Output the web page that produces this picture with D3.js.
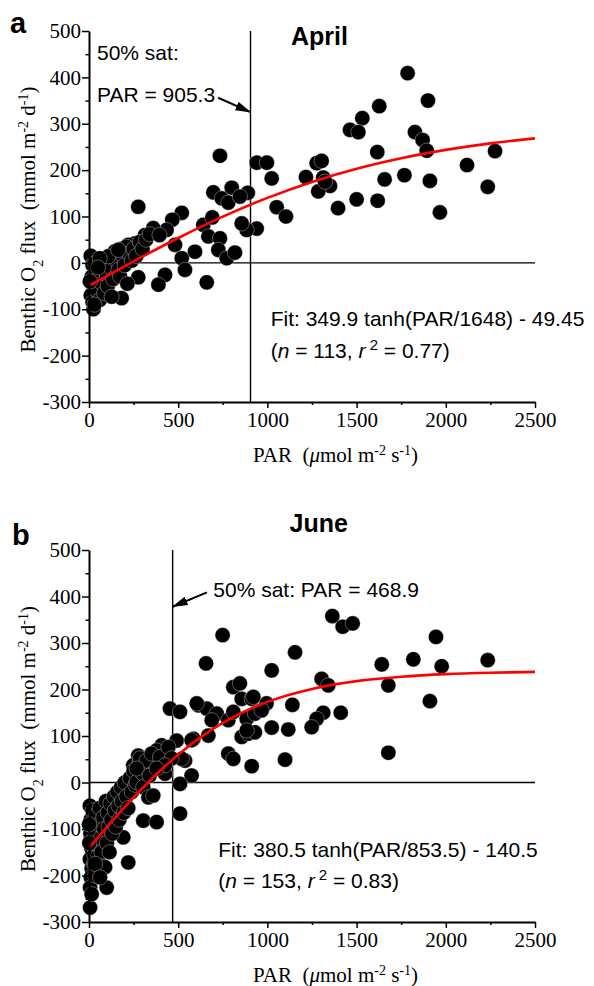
<!DOCTYPE html>
<html>
<head>
<meta charset="utf-8">
<script src="https://cdn.jsdelivr.net/npm/d3@7"></script>
<style>
  body { margin: 0; background: #fff; }
  svg { display: block; }
</style>
</head>
<body>
<div id="chart"></div>
<script>
// ---- data ----
const xTicks = [0, 500, 1000, 1500, 2000, 2500];
const xMinorTicks = [250, 750, 1250, 1750, 2250];
const yTicks = [-300, -200, -100, 0, 100, 200, 300, 400, 500];
const yMinorTicks = [-250, -150, -50, 50, 150, 250, 350, 450];

// April: [PAR, flux]
const aprilPoints = [
  [1786, 409], [1900, 350], [1627, 338], [1532, 312], [1463, 287], [1510, 282],
  [1827, 282], [1870, 265], [1893, 242], [1616, 239], [2276, 241], [2119, 211],
  [2235, 164], [1967, 109], [1911, 177], [1768, 189], [1657, 180], [1618, 134],
  [1500, 137], [1396, 118], [1276, 215], [1304, 220], [1313, 184], [1216, 185],
  [1351, 166], [1285, 154], [1323, 175], [940, 216], [997, 216], [1024, 182],
  [1052, 120], [1104, 100], [940, 74], [884, 71],
  [734, 231], [697, 152], [800, 162], [890, 151], [744, 139], [781, 130],
  [846, 143], [856, 85], [641, 82], [691, 98], [669, 57], [734, 53],
  [725, 28], [772, 10], [818, 22], [594, 24], [660, -42],
  [276, 121], [520, 108], [467, 93], [435, 71], [482, 39], [360, 75],
  [314, 60], [258, 42], [220, 39], [520, 10], [538, -15], [426, -26],
  [389, -47], [276, -31], [183, -76],
  [10, 15], [20, -5], [15, -30], [25, -50], [10, -70], [20, -85], [25, -100],
  [40, -20], [45, -60], [55, -35], [60, -80], [70, -10], [75, -45], [85, -65],
  [90, 5], [100, -25], [105, -50], [115, 15], [120, -10], [127, -73], [135, -35],
  [145, 25], [155, 5], [165, -15], [174, -29], [180, 30], [190, 15], [200, -5],
  [210, 35], [225, 20], [240, 5], [250, 30], [265, 15], [285, 45], [300, 30],
  [320, 50], [340, 62], [108, 14], [164, 28], [35, 0], [60, 10], [5, -40],
  [30, -90], [50, -10], [395, 60], [215, -45]
];

// June: [PAR, flux]
const junePoints = [
  [1364, 358], [1422, 335], [1478, 342], [1945, 313], [1155, 280], [1024, 241],
  [1641, 254], [1818, 265], [1977, 250], [2235, 263], [1678, 209], [1304, 223],
  [1341, 209], [1911, 175], [995, 170], [1140, 167], [1411, 150], [1313, 150],
  [1276, 137], [1248, 119], [1024, 118], [1117, 114], [1678, 64], [1099, 49],
  [749, 317], [656, 256], [809, 205], [846, 213], [856, 180], [912, 180],
  [454, 159], [510, 152], [613, 166], [660, 159], [716, 148], [688, 134],
  [781, 134], [809, 152], [884, 137], [930, 148], [968, 155], [856, 98],
  [893, 105], [930, 108], [585, 94], [669, 101], [781, 62], [809, 51],
  [912, 35], [491, 90], [407, 80], [379, 69], [276, 58], [248, 37],
  [426, 19], [575, 15], [510, -3], [510, -67], [304, -82], [379, -85],
  [192, -118], [220, -172], [99, -226], [6, -269],
  [5, -50], [10, -80], [8, -110], [12, -140], [5, -165], [15, -185], [10, -204],
  [6, -226], [20, -60], [25, -95], [22, -125], [30, -155], [28, -175], [35, -200],
  [40, -70], [45, -110], [50, -135], [48, -160], [55, -90], [60, -55], [65, -120],
  [70, -150], [75, -180], [80, -75], [85, -100], [90, -182], [95, -40], [100, -130],
  [105, -65], [110, -95], [115, -150], [120, -45], [125, -80], [130, -110],
  [140, -30], [145, -60], [150, -95], [160, -20], [165, -50], [170, -80],
  [180, -10], [185, -40], [195, -65], [200, 0], [210, -30], [220, -55], [230, 10],
  [240, -20], [250, 25], [260, -5], [267, 1], [280, 40], [286, 52], [300, 20],
  [304, -10], [333, -32], [360, -28], [323, 47], [267, 30], [351, 62], [398, 55],
  [445, 76], [538, 47], [520, 51], [575, 91], [463, 52], [340, 15], [426, 37],
  [379, 30], [15, -240], [0, -90], [2, -130], [34, -175], [62, -204],
  [604, 170], [921, 184], [884, 112]
];

// fitted curves, sampled along PAR
const aprilFit = [
  [0, -49.5], [125, -23], [250, 3.2], [500, 53.6], [750, 99.6], [1000, 140.1],
  [1250, 174.5], [1500, 202.9], [1750, 225.6], [2000, 243.6], [2250, 257.7], [2500, 268.4]
];
const juneFit = [
  [0, -140.5], [125, -85.1], [250, -32.1], [375, 16.7], [500, 59.9], [625, 97.1],
  [750, 128.1], [1000, 173.4], [1250, 201.3], [1500, 218.0], [1750, 227.5],
  [2000, 233.1], [2250, 236.1], [2500, 237.8]
];

const satPAR = [905.3, 468.9];
const monthNames = ["April", "June"];
const panelLetters = ["a", "b"];
const fitLabels = ["Fit: 349.9 tanh(PAR/1648) - 49.45", "Fit: 380.5 tanh(PAR/853.5) - 140.5"];
const nValues = ["113", "153"];
const r2Values = ["0.77", "0.83"];

// ---- layout ----
const width = 594, height = 986;
const left = 89, right = 535;
const serif = "'Liberation Serif', 'Times New Roman', serif";
const sans = "'Liberation Sans', Arial, sans-serif";

const svg = d3.select("#chart").append("svg")
  .attr("width", width).attr("height", height);

svg.append("defs").append("marker")
  .attr("id", "arrow")
  .attr("markerUnits", "userSpaceOnUse")
  .attr("viewBox", "0 -5 16 10")
  .attr("markerWidth", 16).attr("markerHeight", 10)
  .attr("refX", 15).attr("refY", 0)
  .attr("orient", "auto")
  .append("path").attr("d", "M0,-4.5L16,0L0,4.5Z").attr("fill", "#000");

const x = d3.scaleLinear().domain([0, 2500]).range([left, right]);
const plain = d => String(d);   // hyphen minus, no thousands comma

const panels = [
  {points: aprilPoints, fit: aprilFit, top: 31, bottom: 402,
   letter: [10, 33], month: [291, 45],
   satText: [[97, 60, "50% sat:"], [97, 101.7, "PAR = 905.3"]],
   arrow: {from: [724, 356], to: [905.3, 325]},
   fitPos: [270.7, 326, 358], titleX: 253},
  {points: junePoints, fit: juneFit, top: 550, bottom: 922,
   letter: [12, 545], month: [289.5, 531.7],
   satText: [[213.3, 596.7, "50% sat: PAR = 468.9"]],
   arrow: {from: [661, 409], to: [468.9, 378]},
   fitPos: [218.3, 856.7, 888], titleX: 253}
];

panels.forEach((p, i) => {
  const y = d3.scaleLinear().domain([-300, 500]).range([p.bottom, p.top]);
  const g = svg.append("g");

  // zero line and 50% saturation line
  g.append("line")
    .attr("x1", x(0)).attr("x2", x(2500))
    .attr("y1", y(0)).attr("y2", y(0))
    .attr("stroke", "#000").attr("stroke-width", 1.4);
  g.append("line")
    .attr("x1", x(satPAR[i])).attr("x2", x(satPAR[i]))
    .attr("y1", y(500)).attr("y2", y(-300))
    .attr("stroke", "#000").attr("stroke-width", 1.4);

  // points
  g.append("g").selectAll("circle")
    .data(p.points)
    .join("circle")
      .attr("cx", d => x(d[0]))
      .attr("cy", d => y(d[1]))
      .attr("r", 7.6)
      .attr("fill", "#000")
      .attr("stroke", "#fff")
      .attr("stroke-width", 0.35);

  // fit
  const line = d3.line()
    .x(d => x(d[0])).y(d => y(d[1]))
    .curve(d3.curveMonotoneX);
  g.append("path")
    .datum(p.fit)
    .attr("d", line)
    .attr("fill", "none")
    .attr("stroke", "#f00")
    .attr("stroke-width", 2.6);

  // axes
  g.append("g")
    .attr("transform", `translate(0,${p.bottom})`)
    .call(d3.axisBottom(x).tickValues(xTicks).tickFormat(plain)
      .tickSize(6).tickSizeOuter(0).tickPadding(4));
  g.append("g")
    .attr("transform", `translate(0,${p.bottom})`)
    .call(d3.axisBottom(x).tickValues(xMinorTicks).tickSize(3).tickSizeOuter(0).tickFormat(""))
    .call(a => a.select(".domain").remove());
  g.append("g")
    .attr("transform", `translate(${left},0)`)
    .call(d3.axisLeft(y).tickValues(yTicks).tickFormat(plain)
      .tickSize(7).tickSizeOuter(0).tickPadding(1));
  g.append("g")
    .attr("transform", `translate(${left},0)`)
    .call(d3.axisLeft(y).tickValues(yMinorTicks).tickSize(3.5).tickSizeOuter(0).tickFormat(""))
    .call(a => a.select(".domain").remove());

  g.selectAll(".domain").attr("stroke-width", 2);
  g.selectAll(".tick line").attr("stroke-width", 1.5);
  g.selectAll(".tick text")
    .attr("font-family", serif).attr("font-size", 21).attr("fill", "#000");

  // y axis title
  const yt = g.append("text")
    .attr("transform", `translate(35,${(p.top + p.bottom) / 2 + 3}) rotate(-90)`)
    .attr("text-anchor", "middle")
    .attr("font-family", serif).attr("font-size", 21);
  yt.append("tspan").text("Benthic O");
  yt.append("tspan").attr("baseline-shift", "sub").attr("font-size", 14).text("2");
  yt.append("tspan").text(" flux\u00a0 (mmol m");
  yt.append("tspan").attr("baseline-shift", "super").attr("font-size", 14).text("-2");
  yt.append("tspan").text(" d");
  yt.append("tspan").attr("baseline-shift", "super").attr("font-size", 14).text("-1");
  yt.append("tspan").text(")");

  // x axis title
  const xt = g.append("text")
    .attr("x", p.titleX).attr("y", p.bottom + 60)
    .attr("font-family", serif).attr("font-size", 21);
  xt.append("tspan").text("PAR\u00a0 (");
  xt.append("tspan").attr("font-style", "italic").text("\u03bc");
  xt.append("tspan").text("mol m");
  xt.append("tspan").attr("baseline-shift", "super").attr("font-size", 14).text("-2");
  xt.append("tspan").text(" s");
  xt.append("tspan").attr("baseline-shift", "super").attr("font-size", 14).text("-1");
  xt.append("tspan").text(")");

  // panel letter and month
  g.append("text")
    .attr("x", p.letter[0]).attr("y", p.letter[1])
    .attr("font-family", sans).attr("font-weight", "bold").attr("font-size", 29)
    .text(panelLetters[i]);
  g.append("text")
    .attr("x", p.month[0]).attr("y", p.month[1])
    .attr("font-family", sans).attr("font-weight", "bold").attr("font-size", 25)
    .text(monthNames[i]);

  // 50% saturation annotation
  p.satText.forEach(t => {
    g.append("text")
      .attr("x", t[0]).attr("y", t[1])
      .attr("font-family", sans).attr("font-size", 21)
      .text(t[2]);
  });
  g.append("line")
    .attr("x1", x(p.arrow.from[0])).attr("y1", y(p.arrow.from[1]))
    .attr("x2", x(p.arrow.to[0])).attr("y2", y(p.arrow.to[1]))
    .attr("stroke", "#000").attr("stroke-width", 2)
    .attr("marker-end", "url(#arrow)");

  // fit equation
  g.append("text")
    .attr("x", p.fitPos[0]).attr("y", p.fitPos[1])
    .attr("font-family", sans).attr("font-size", 21)
    .text(fitLabels[i]);
  const st = g.append("text")
    .attr("x", p.fitPos[0]).attr("y", p.fitPos[2])
    .attr("font-family", sans).attr("font-size", 21);
  st.append("tspan").text("(");
  st.append("tspan").attr("font-style", "italic").text("n");
  st.append("tspan").text(` = ${nValues[i]}, `);
  st.append("tspan").attr("font-style", "italic").text("r");
  st.append("tspan").attr("baseline-shift", "super").attr("font-size", 15).text("\u00a02");
  st.append("tspan").text(` = ${r2Values[i]})`);
});
</script>
</body>
</html>
